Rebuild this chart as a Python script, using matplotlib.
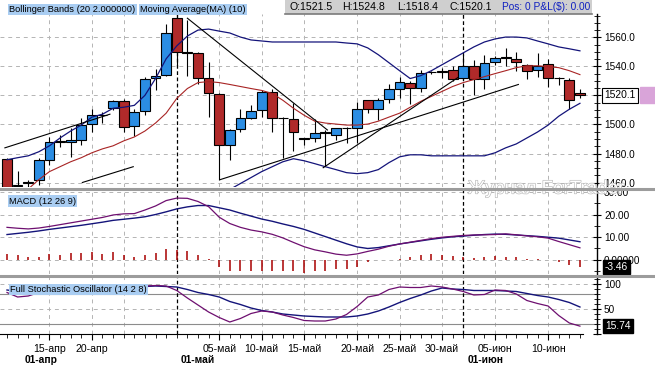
import matplotlib
matplotlib.use("Agg")
import numpy as np
import matplotlib.pyplot as plt
from matplotlib.patches import Rectangle
from matplotlib.lines import Line2D
from matplotlib.ticker import MultipleLocator
from matplotlib.transforms import blended_transform_factory
from matplotlib import patheffects

plt.rcParams['font.family'] = ['Liberation Sans', 'DejaVu Sans']

# ---------------- data (gold, daily bars incl. Sunday sessions) ----------------
dates = [
    '2011-04-11', '2011-04-12', '2011-04-13', '2011-04-14', '2011-04-15', '2011-04-17',
    '2011-04-18', '2011-04-19', '2011-04-20', '2011-04-21', '2011-04-24', '2011-04-25',
    '2011-04-26', '2011-04-27', '2011-04-28', '2011-04-29', '2011-05-01', '2011-05-02',
    '2011-05-03', '2011-05-04', '2011-05-05', '2011-05-06', '2011-05-08', '2011-05-09',
    '2011-05-10', '2011-05-11', '2011-05-12', '2011-05-13', '2011-05-15', '2011-05-16',
    '2011-05-17', '2011-05-18', '2011-05-19', '2011-05-20', '2011-05-22', '2011-05-23',
    '2011-05-24', '2011-05-25', '2011-05-26', '2011-05-27', '2011-05-29', '2011-05-30',
    '2011-05-31', '2011-06-01', '2011-06-02', '2011-06-03', '2011-06-05', '2011-06-06',
    '2011-06-07', '2011-06-08', '2011-06-09', '2011-06-10', '2011-06-12', '2011-06-13',
    '2011-06-14',
]

opens = [1476.0, 1457.5, 1459.8, 1461.4, 1475.7, 1488.0, 1487.8, 1489.4, 1500.1, 1506.4,
         1511.4, 1516.2, 1498.9, 1509.4, 1532.2, 1534.2, 1573.5, 1550.0, 1549.2, 1532.2,
         1521.2, 1485.9, 1496.7, 1504.8, 1510.3, 1522.3, 1504.5, 1503.5, 1490.5, 1490.5,
         1494.6, 1492.8, 1497.3, 1497.3, 1516.7, 1511.0, 1517.3, 1524.6, 1528.7, 1525.3,
         1536.3, 1536.5, 1537.6, 1532.2, 1540.1, 1531.5, 1542.8, 1546.2, 1545.1, 1541.0,
         1537.5, 1541.7, 1532.2, 1531.0, 1521.5]
highs = [1477.0, 1468.0, 1462.0, 1477.0, 1491.6, 1492.8, 1497.5, 1504.2, 1510.5, 1508.7,
         1517.0, 1517.8, 1510.5, 1532.6, 1538.3, 1569.0, 1577.0, 1572.4, 1550.0, 1542.8,
         1522.0, 1497.0, 1511.0, 1513.7, 1523.5, 1524.6, 1505.0, 1515.0, 1491.0, 1503.7,
         1496.2, 1497.5, 1498.0, 1515.5, 1517.0, 1518.0, 1527.6, 1532.6, 1530.0, 1537.6,
         1537.0, 1539.0, 1540.5, 1547.8, 1544.4, 1547.8, 1547.0, 1553.0, 1550.1, 1542.0,
         1549.6, 1545.1, 1533.0, 1532.0, 1524.8]
lows = [1455.0, 1455.0, 1456.0, 1458.0, 1472.3, 1484.8, 1477.7, 1486.0, 1495.0, 1500.8,
        1510.0, 1495.0, 1492.3, 1506.4, 1523.5, 1533.2, 1539.4, 1533.7, 1528.0, 1505.3,
        1462.0, 1475.7, 1495.0, 1504.0, 1505.3, 1495.0, 1477.0, 1481.8, 1486.0, 1488.2,
        1471.1, 1489.4, 1487.0, 1487.1, 1507.6, 1503.0, 1515.0, 1518.0, 1514.4, 1522.3,
        1535.0, 1532.0, 1530.0, 1531.0, 1520.1, 1524.6, 1541.0, 1540.5, 1537.1, 1531.5,
        1532.6, 1525.7, 1527.0, 1510.5, 1518.4]
closes = [1457.0, 1458.0, 1460.3, 1475.7, 1487.8, 1488.3, 1489.1, 1499.6, 1506.4, 1506.6,
          1516.0, 1498.4, 1508.7, 1531.5, 1533.7, 1562.9, 1550.1, 1549.5, 1532.2, 1521.9,
          1485.9, 1496.2, 1504.2, 1509.4, 1522.3, 1504.8, 1504.2, 1494.6, 1490.3, 1494.0,
          1494.0, 1497.3, 1497.6, 1511.0, 1511.0, 1517.1, 1524.2, 1529.6, 1525.3, 1535.6,
          1536.5, 1536.7, 1531.5, 1540.1, 1531.5, 1542.1, 1546.2, 1546.4, 1542.8, 1537.1,
          1540.0, 1532.2, 1532.0, 1516.7, 1520.1]

bb_upper = [1475.7, 1477.1, 1478.4, 1481.2, 1485.3, 1490.7, 1495.5, 1499.6, 1505.1, 1507.1,
            1511.2, 1511.9, 1513.2, 1520.1, 1531.7, 1545.3, 1554.2, 1561.0, 1565.1, 1565.8,
            1564.4, 1563.1, 1560.3, 1558.3, 1557.6, 1556.9, 1556.9, 1556.9, 1556.9, 1556.9,
            1556.9, 1556.9, 1556.2, 1555.6, 1552.8, 1548.1, 1542.6, 1537.1, 1531.7, 1533.7,
            1537.1, 1541.2, 1545.3, 1549.4, 1553.5, 1556.9, 1559.0, 1560.3, 1560.3, 1559.7,
            1557.6, 1555.6, 1553.5, 1552.2, 1550.8]
bb_lower = [None] * 20 + [
    1449.8, 1455.2, 1459.3, 1463.4, 1467.5, 1470.9, 1474.3, 1476.4, 1475.0, 1473.0,
    1470.9, 1468.9, 1466.8, 1466.1, 1466.8, 1468.9, 1473.7, 1477.7, 1479.1, 1479.1,
    1478.4, 1478.4, 1478.4, 1478.4, 1478.4, 1478.4, 1480.5, 1483.9, 1486.6, 1490.7,
    1494.8, 1499.6, 1505.7, 1510.5, 1514.6]
ma10 = [None, None, 1455.5, 1462.0, 1467.5, 1470.9, 1474.3, 1477.1, 1480.5, 1483.2,
        1485.3, 1488.7, 1491.4, 1495.5, 1501.0, 1507.8, 1518.0, 1524.8, 1528.9, 1529.6,
        1528.9, 1527.6, 1526.2, 1524.8, 1523.5, 1521.4, 1516.7, 1511.2, 1506.4, 1502.3,
        1501.0, 1500.3, 1499.6, 1499.6, 1500.3, 1502.3, 1505.1, 1507.8, 1511.9, 1516.0,
        1519.4, 1522.8, 1526.2, 1528.9, 1531.0, 1533.0, 1535.1, 1537.1, 1539.2, 1540.5,
        1540.5, 1539.9, 1539.2, 1537.1, 1534.4]

macd_line = [14.3, 13.9, 13.6, 14.0, 14.7, 15.5, 16.3, 17.1, 17.9, 18.7,
             19.8, 20.3, 20.4, 22.0, 23.8, 26.2, 27.3, 27.2, 25.8, 23.5,
             18.8, 16.0, 14.3, 13.1, 12.3, 11.2, 9.6, 7.6, 5.7, 4.3,
             3.4, 2.4, 1.9, 2.5, 3.6, 4.6, 5.9, 6.9, 7.7, 8.5,
             9.3, 9.9, 10.3, 10.7, 10.9, 11.0, 11.1, 11.4, 11.0, 10.5,
             10.1, 9.5, 8.0, 6.6, 5.2]
macd_signal = [11.1, 11.6, 12.1, 12.7, 13.4, 14.0, 14.6, 15.2, 15.9, 16.6,
               17.4, 17.9, 18.4, 19.0, 20.0, 21.2, 22.5, 23.4, 24.0, 24.0,
               23.0, 22.0, 20.6, 19.3, 18.0, 17.0, 15.8, 14.7, 13.4, 11.8,
               10.2, 8.6, 7.0, 5.6, 4.9, 5.3, 6.1, 6.9, 7.6, 8.3,
               9.0, 9.6, 10.1, 10.4, 10.8, 11.1, 11.3, 11.2, 10.9, 10.6,
               10.3, 9.9, 9.5, 8.7, 7.9]
macd_hist = [2.5, 1.8, 1.0, 1.3, 2.5, 2.2, 2.8, 2.8, 3.3, 2.5,
             3.3, 1.8, 1.3, 2.2, 2.8, 4.7, 4.4, 3.7, 1.8, 0.3,
             -3.4, -4.9, -5.3, -5.3, -4.9, -4.9, -5.3, -5.3, -5.9, -5.3,
             -5.3, -4.4, -4.1, -3.4, -0.9, -0.3, -0.2, 0.3, 1.3, 1.8,
             2.5, 2.1, 1.5, 1.0, 0.6, 1.2, 1.5, 1.3, 0.9, 0.3,
             0.1, -0.2, -1.2, -2.4, -3.46]

stoch_k = [83, 74, 76, 83, 88, 92, 94, 95, 95, 96,
           95, 94, 95, 96, 97, 96, 87, 72, 58, 44,
           33, 24, 31, 41, 46, 44, 38, 33, 27, 26,
           26, 30, 39, 55, 74, 78, 89, 94, 93, 93,
           96, 94, 90, 85, 78, 79, 88, 87, 80, 67,
           61, 56, 37, 22, 15.74]
stoch_d = [88, 85, 82, 84, 86, 88, 91, 93, 94, 95,
           95, 95, 95, 95, 96, 95, 94, 89, 83, 79,
           74, 65, 59, 52, 47, 44, 40, 38, 36, 35,
           34, 34, 34, 36, 40, 46, 54, 63, 71, 78,
           86, 92, 90, 89, 87, 87, 87, 86, 85, 81,
           77, 74, 69, 63, 54]

# hand-drawn trend lines: (bar index, price) -> (bar index, price)
trend_lines = [
    (-0.2, 1483.9, 9.7, 1507.1),
    (7.1, 1460.0, 11.9, 1470.9),
    (17.0, 1573.3, 30.2, 1496.2),
    (20.1, 1462.0, 48.2, 1527.6),
    (29.8, 1470.2, 42.5, 1532.4),
]

label_dates = ['2011-04-15', '2011-04-20', '2011-05-05', '2011-05-10', '2011-05-15',
               '2011-05-20', '2011-05-25', '2011-05-30', '2011-06-05', '2011-06-10']
grid_dates = label_dates + ['2011-04-25']
month_starts = ['2011-05-01', '2011-06-01']
month_names = {4: 'апр', 5: 'май', 6: 'июн'}

# ---------------- layout ----------------
W, H = 655, 366
BAR0, STEP = 7.0, 10.61
PLOT_R = 597.0
XL, XR = (0 - BAR0) / STEP, (PLOT_R - BAR0) / STEP

BLUE = '#2b8de3'
RED = '#b02a2a'
NAVY = '#14147a'
PURPLE = '#6e0f70'
GRID = '#b4b4b4'
LABEL_BG = '#a9cdf2'

fig = plt.figure(figsize=(W / 100, H / 100), dpi=100)
fig.patch.set_facecolor('white')


def panel(top, bottom):
    return fig.add_axes([0, 1 - bottom / H, PLOT_R / W, (bottom - top) / H])


def style_panel(ax, ylim, majors, labels, minor):
    ax.set_xlim(XL, XR)
    ax.set_ylim(*ylim)
    for s in ['left', 'top', 'bottom']:
        ax.spines[s].set_visible(False)
    ax.spines['right'].set_linewidth(1.0)
    ax.yaxis.tick_right()
    ax.set_yticks(majors)
    ax.set_yticklabels(labels)
    ax.yaxis.set_minor_locator(MultipleLocator(minor))
    ax.tick_params(axis='y', which='major', direction='inout', length=6, width=0.8,
                   pad=2, labelsize=7.2)
    ax.tick_params(axis='y', which='minor', direction='inout', length=4, width=0.6)
    ax.set_xticks([])


idx = {d: i for i, d in enumerate(dates)}
xs = np.arange(len(dates))

ax_p = panel(14, 187)
ax_m = panel(190, 274)
ax_s = panel(277, 334)

style_panel(ax_p, (1456.9, 1576.2), [1460, 1480, 1500, 1520, 1540, 1560],
            [f'{v:.1f}' for v in [1460, 1480, 1500, 1520, 1540, 1560]], 5)
style_panel(ax_m, (-6.44, 30.9), [0, 10, 20, 30],
            ['0.00000', '10.00', '20.00', '30.00'], 5)
style_panel(ax_s, (0, 114), [0, 50, 100], ['', '50', '100'], 10)

# grids and month separators
for ax in (ax_p, ax_m, ax_s):
    for d in grid_dates:
        ax.axvline(idx[d], color=GRID, lw=0.7, dashes=(4, 4), zorder=0)
    for d in month_starts:
        ax.axvline(idx[d], color='black', lw=0.9, dashes=(3, 2), zorder=1)
for v in [1460, 1480, 1500, 1520, 1540, 1560]:
    ax_p.axhline(v, color=GRID, lw=0.7, dashes=(4, 4), zorder=0)
for v in [0, 10, 20, 30]:
    ax_m.axhline(v, color=GRID, lw=0.7, dashes=(4, 4), zorder=0)
for v in [50, 100]:
    ax_s.axhline(v, color=GRID, lw=0.7, dashes=(4, 4), zorder=0)
for v in [20, 80]:
    ax_s.axhline(v, color='#8c8c8c', lw=0.8, zorder=0)

# ---------------- price panel ----------------
o, h, l, c = map(np.array, (opens, highs, lows, closes))
ax_p.vlines(xs, l, h, color='black', lw=0.8, zorder=2)
body_col = [BLUE if cc > oo else RED for oo, cc in zip(o, c)]
ax_p.bar(xs, c - o, bottom=o, width=0.92, color=body_col, edgecolor='black',
         linewidth=0.8, zorder=3)

up = np.array(bb_upper, dtype=float)
lo = np.array([np.nan if v is None else v for v in bb_lower])
ma = np.array([np.nan if v is None else v for v in ma10])
ax_p.plot(xs, up, color=NAVY, lw=0.9, zorder=4)
ax_p.plot(xs, lo, color=NAVY, lw=0.9, zorder=4)
ax_p.plot(xs, ma, color='#a82424', lw=0.8, zorder=4)

for x0, p0, x1, p1 in trend_lines:
    ax_p.plot([x0, x1], [p0, p1], color='black', lw=0.8, zorder=5)

tr_p = blended_transform_factory(ax_p.transAxes, ax_p.transData)
ax_p.text(1 + 7 / PLOT_R, closes[-1], f'{closes[-1]:.1f}', transform=tr_p,
          va='center', ha='left', fontsize=7.4, zorder=10,
          bbox=dict(boxstyle='square,pad=0.22', fc='white', ec='black', lw=0.8))
ax_p.add_patch(Rectangle((1 + 43 / PLOT_R, closes[-1] - 5.5), 15 / PLOT_R, 11,
                         transform=tr_p, clip_on=False, color='#d9a4d9', zorder=10))

# ---------------- MACD panel ----------------
ax_m.vlines(xs, 0, macd_hist, color='#a80000', lw=1.1, zorder=2)
ax_m.plot(xs, macd_signal, color=NAVY, lw=1.0, zorder=3)
ax_m.plot(xs, macd_line, color=PURPLE, lw=0.9, zorder=3)
tr_m = blended_transform_factory(ax_m.transAxes, ax_m.transData)
ax_m.text(1 + 8 / PLOT_R, macd_hist[-1], f'{macd_hist[-1]:.2f}', transform=tr_m,
          va='center', ha='left', fontsize=7.4, color='white', zorder=10,
          bbox=dict(boxstyle='square,pad=0.2', fc='black', ec='black'))

# ---------------- Stochastic panel ----------------
ax_s.plot(xs, stoch_d, color=NAVY, lw=1.0, zorder=3)
ax_s.plot(xs, stoch_k, color=PURPLE, lw=0.9, zorder=3)
tr_s = blended_transform_factory(ax_s.transAxes, ax_s.transData)
ax_s.text(1 + 8 / PLOT_R, stoch_k[-1], f'{stoch_k[-1]:.2f}', transform=tr_s,
          va='center', ha='left', fontsize=7.4, color='white', zorder=10,
          bbox=dict(boxstyle='square,pad=0.2', fc='black', ec='black'))

ax_s.spines['bottom'].set_visible(True)
ax_s.spines['bottom'].set_bounds(XL, (583 - BAR0) / STEP)
ax_s.set_xticks([idx[d] for d in label_dates])
ax_s.set_xticklabels([f"{int(d[8:]):02d}-{month_names[int(d[5:7])]}" for d in label_dates])
ax_s.set_xticks(xs, minor=True)
ax_s.tick_params(axis='x', which='major', direction='out', length=4, width=0.8,
                 pad=3, labelsize=7.6)
ax_s.tick_params(axis='x', which='minor', direction='out', length=3, width=0.6)

# bold month labels
first = dates[0]
fig.text(25 / W, 1 - 360 / H, f"01-{month_names[int(first[5:7])]}", fontsize=7.4,
         fontweight='bold', ha='left', va='center')
for d in month_starts:
    px = BAR0 + idx[d] * STEP
    fig.text((px + 4) / W, 1 - 360 / H, f"01-{month_names[int(d[5:7])]}", fontsize=7.4,
             fontweight='bold', ha='left', va='center')

# ---------------- decorations ----------------
wm = fig.text(468 / W, 1 - 189 / H, 'Журнал ForTrader', fontsize=13.5, color='white',
              ha='left', va='center', zorder=1)
wm.set_path_effects([patheffects.withStroke(linewidth=0.9, foreground='#b8b8b8')])

for yy in (188.5, 275.5):
    fig.add_artist(Line2D([0, 1], [1 - yy / H, 1 - yy / H], color='#9c9c9c', lw=2.2,
                          zorder=6))

# header
fig.text(9 / W, 1 - 9.5 / H, 'Bollinger Bands (20 2.000000)', fontsize=6.7,
         ha='left', va='center', zorder=8,
         bbox=dict(boxstyle='square,pad=0.15', fc=LABEL_BG, ec='none'))
fig.text(140 / W, 1 - 9.5 / H, 'Moving Average(MA) (10)', fontsize=6.7,
         ha='left', va='center', zorder=8,
         bbox=dict(boxstyle='square,pad=0.15', fc=LABEL_BG, ec='none'))
fig.add_artist(Rectangle((285 / W, 1 - 14 / H), 307 / W, 14 / H, transform=fig.transFigure,
                         fc='#cfcfcf', ec='none', zorder=7))
fig.add_artist(Line2D([285 / W, 592 / W], [1 - 14 / H, 1 - 14 / H], color='#7a7a7a',
                      lw=1.2, zorder=7))
ohlc_text = [(290, f'O:{opens[-1]:.1f}'), (342, f'H:{highs[-1]:.1f}'),
             (397, f'L:{lows[-1]:.1f}'), (449, f'C:{closes[-1]:.1f}')]
for px, t in ohlc_text:
    fig.text(px / W, 1 - 7 / H, t, fontsize=7.6, ha='left', va='center', zorder=8)
fig.text(502 / W, 1 - 7 / H, 'Pos: 0 P&L(\\$): 0.00', fontsize=7.3, color='#1020c0',
         ha='left', va='center', zorder=8)

fig.text(9 / W, 1 - 201 / H, 'MACD (12 26 9)', fontsize=6.7, ha='left', va='center',
         zorder=8, bbox=dict(boxstyle='square,pad=0.15', fc=LABEL_BG, ec='none'))
fig.text(10 / W, 1 - 289.5 / H, 'Full Stochastic Oscillator (14 2 8)', fontsize=6.7,
         ha='left', va='center', zorder=8,
         bbox=dict(boxstyle='square,pad=0.15', fc=LABEL_BG, ec='none'))

fig.savefig('out.png', dpi=100)
